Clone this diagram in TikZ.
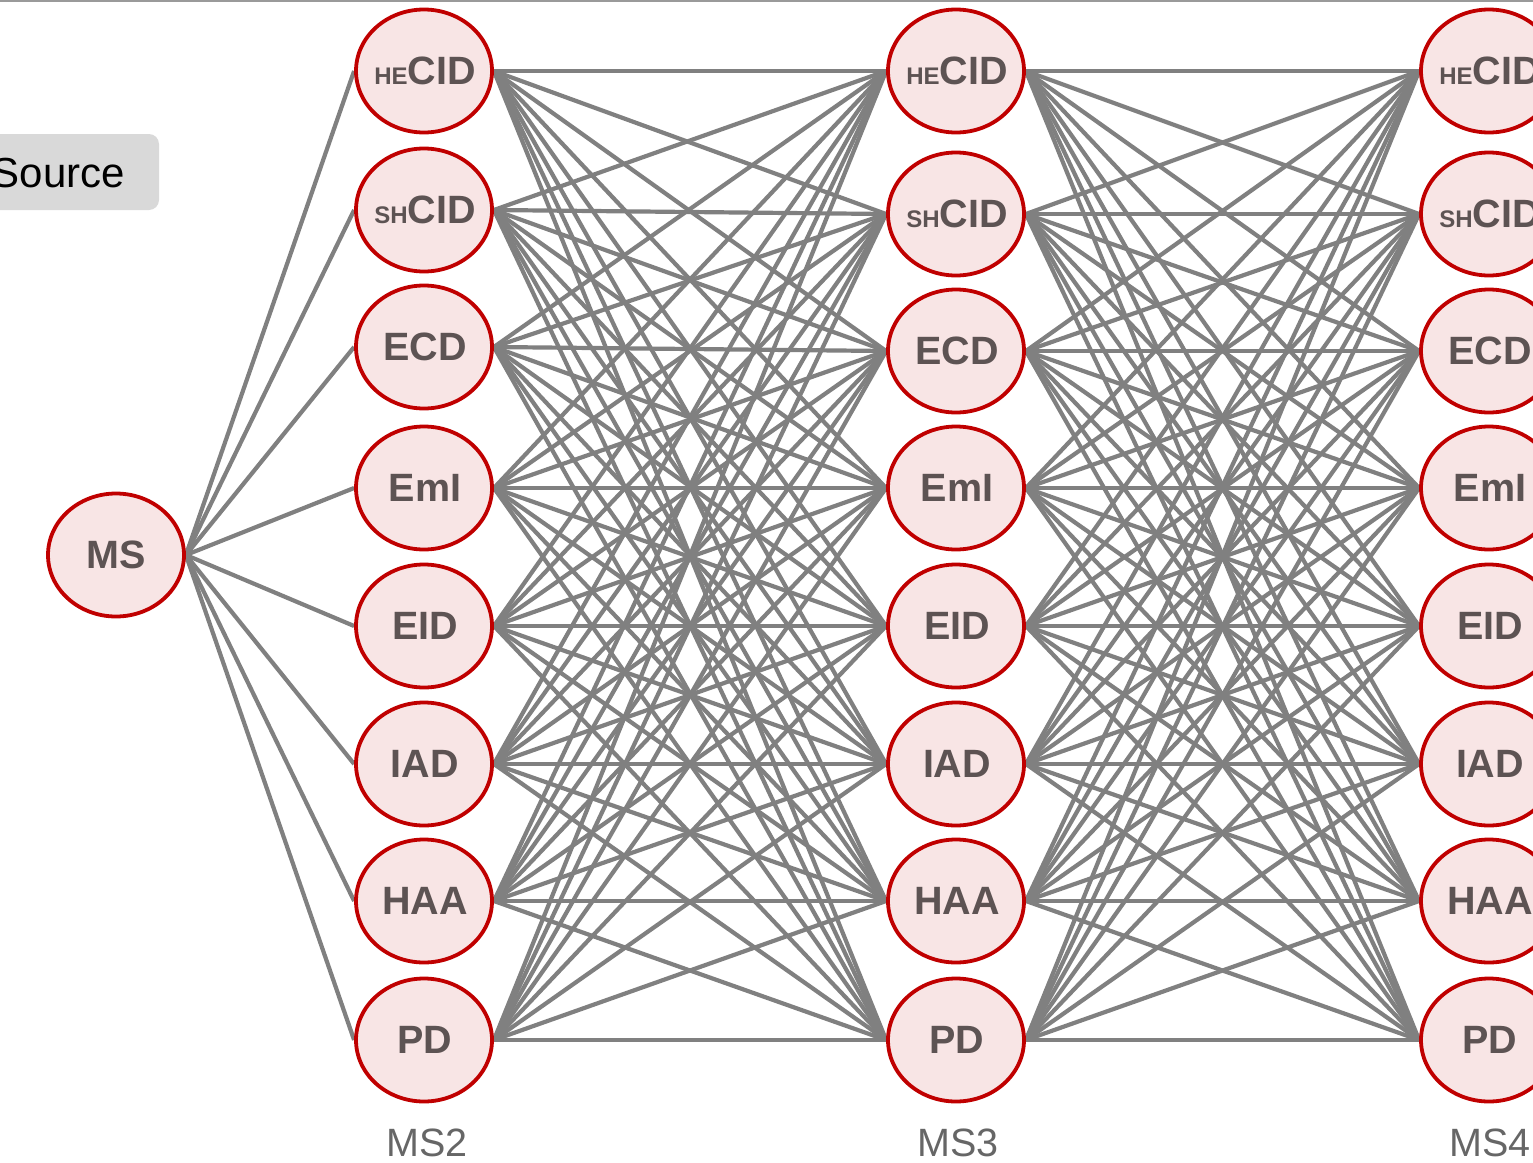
\documentclass[tikz,border=0pt]{standalone}
\usepackage{fontspec}
\setmainfont{Liberation Sans}
\usetikzlibrary{shapes.geometric,backgrounds}
\definecolor{edgegray}{HTML}{808080}
\definecolor{nodered}{HTML}{C00000}
\definecolor{nodefill}{HTML}{F8E5E5}
\definecolor{nodetext}{HTML}{5D5353}
\definecolor{labgray}{HTML}{666666}
\definecolor{srcfill}{HTML}{D9D9D9}
\definecolor{topline}{HTML}{9A9A9A}
\newcommand{\smlab}[1]{{\fontsize{24}{25}\selectfont #1}}
\begin{document}
\begin{tikzpicture}[x=1pt,y=-1pt,
  stage/.style={ellipse, draw=nodered, line width=3.8pt, fill=nodefill,
    minimum width=136pt, minimum height=123pt, inner sep=0pt, text=nodetext,
    font=\fontsize{39.5}{41}\selectfont\bfseries},
  link/.style={draw=edgegray, line width=4.2pt},
  collab/.style={text=labgray, font=\fontsize{39.5}{41}\selectfont, inner sep=0pt},
  srcbox/.style={fill=srcfill, rounded corners=10pt, draw=none}]
\useasboundingbox (0,0) rectangle (1533,1162);
\draw[topline, line width=2pt] (0,1) -- (1533,1);
\fill[srcfill, rounded corners=10pt] (-30,134) rectangle (159,210);
\node[anchor=east, inner sep=0pt, font=\fontsize{42}{44}\selectfont] (src) at (125,173) {Source};
\node[stage] (ms) at (116,555) {\makebox[0pt]{MS}};
\foreach \i/\lab/\ya/\yb in {1/{\smlab{HE}CID}/71/71, 2/{\smlab{SH}CID}/210/214, 3/ECD/347/351, 4/EmI/488/488, 5/EID/626/626, 6/IAD/764/764, 7/HAA/901/901, 8/PD/1040/1040}{
  \node[stage] (a\i) at (424,\ya) {\makebox[0pt]{\hspace{2pt}\lab}};
  \node[stage] (b\i) at (956,\yb) {\makebox[0pt]{\hspace{2pt}\lab}};
  \node[stage] (c\i) at (1489,\yb) {\makebox[0pt]{\hspace{2pt}\lab}};
}
\node[collab] (l2) at (427,1143) {MS2};
\node[collab] (l3) at (958,1143) {MS3};
\node[collab] (l4) at (1490,1143) {MS4};
\begin{pgfonlayer}{background}
\foreach \i in {1,...,8}{
  \draw[link] (ms.east) -- (a\i.west);
  \foreach \j in {1,...,8}{
    \draw[link] (a\i.east) -- (b\j.west);
    \draw[link] (b\i.east) -- (c\j.west);
  }
}
\end{pgfonlayer}
\end{tikzpicture}
\end{document}
